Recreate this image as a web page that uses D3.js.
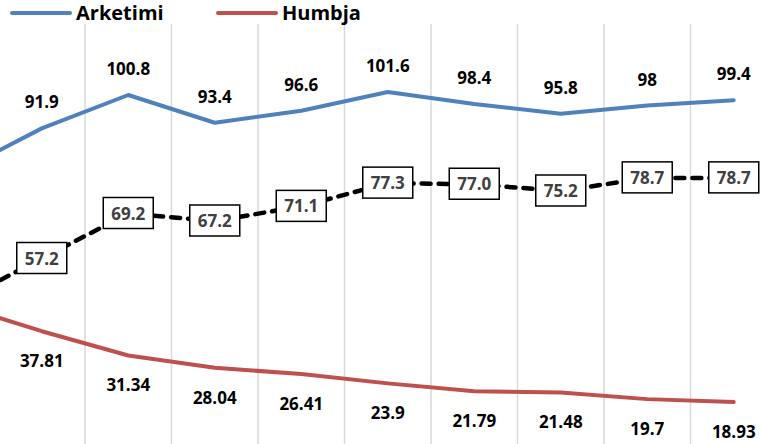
<!DOCTYPE html>
<html>
<head>
<meta charset="utf-8">
<script src="https://cdn.jsdelivr.net/npm/d3@7"></script>
<style>
  body { margin: 0; background: #fff; }
  svg { display: block; font-family: "Open Sans", Lato, sans-serif; }
</style>
</head>
<body>
<script>
// data (first category sits off the left edge of the crop)
var categories = ["c0", "c1", "c2", "c3", "c4", "c5", "c6", "c7", "c8", "c9"];
var arketimi = [80, 91.9, 100.8, 93.4, 96.6, 101.6, 98.4, 95.8, 98, 99.4];
var humbja = [45, 37.81, 31.34, 28.04, 26.41, 23.9, 21.79, 21.48, 19.7, 18.93];
var ratio = [45.2, 57.2, 69.2, 67.2, 71.1, 77.3, 77.0, 75.2, 78.7, 78.7];
var legendNames = ["Arketimi", "Humbja"];

var screen = { width: 762, height: 444 };

var svg = d3.select("body")
            .append("svg")
            .attr("width", screen.width)
            .attr("height", screen.height);

var xScale = d3.scaleBand()
               .domain(categories)
               .range([-88, 777]);

var yScale = d3.scaleLinear()
               .domain([0, 100])
               .range([473, 98]);

var cx = function(i) { return xScale(categories[i]) + xScale.bandwidth() / 2; };

// vertical gridlines at band edges
svg.append("g")
   .attr("class", "grid")
   .selectAll("line")
   .data(categories.slice(1))
   .enter()
   .append("line")
   .attr("x1", function(d) { return xScale(d); })
   .attr("x2", function(d) { return xScale(d); })
   .attr("y1", 24)
   .attr("y2", screen.height)
   .attr("stroke", "#d9d9d9")
   .attr("stroke-width", 1.5);

var line = d3.line()
             .x(function(d, i) { return cx(i); })
             .y(function(d) { return yScale(d); });

// series lines
svg.append("path")
   .datum(arketimi)
   .attr("d", line)
   .attr("fill", "none")
   .attr("stroke", "#4f81bd")
   .attr("stroke-width", 4)
   .attr("stroke-linecap", "round")
   .attr("stroke-linejoin", "round");

svg.append("path")
   .datum(humbja)
   .attr("d", line)
   .attr("fill", "none")
   .attr("stroke", "#c0504d")
   .attr("stroke-width", 4)
   .attr("stroke-linecap", "round")
   .attr("stroke-linejoin", "round");

svg.append("path")
   .datum(ratio)
   .attr("d", line)
   .attr("fill", "none")
   .attr("stroke", "#000")
   .attr("stroke-width", 4.5)
   .attr("stroke-dasharray", "9,8")
   .attr("stroke-linecap", "round");

// data labels
var withIndex = function(arr) {
  return arr.map(function(d, i) { return { v: d, i: i }; }).slice(1);
};

svg.append("g")
   .selectAll("text")
   .data(withIndex(arketimi))
   .enter()
   .append("text")
   .attr("x", function(d) { return cx(d.i); })
   .attr("y", function(d) { return yScale(d.v) - 20; })
   .attr("text-anchor", "middle")
   .attr("font-size", 17)
   .attr("font-weight", "bold")
   .attr("fill", "#000")
   .text(function(d) { return d.v; });

svg.append("g")
   .selectAll("text")
   .data(withIndex(humbja))
   .enter()
   .append("text")
   .attr("x", function(d) { return cx(d.i); })
   .attr("y", function(d) { return yScale(d.v) + 36; })
   .attr("text-anchor", "middle")
   .attr("font-size", 17)
   .attr("font-weight", "bold")
   .attr("fill", "#000")
   .text(function(d) { return d.v; });

var boxes = svg.append("g")
               .selectAll("g")
               .data(withIndex(ratio))
               .enter()
               .append("g")
               .attr("transform", function(d) {
                 return "translate(" + cx(d.i) + "," + yScale(d.v) + ")";
               });

boxes.append("rect")
     .attr("x", -25)
     .attr("y", -16)
     .attr("width", 50)
     .attr("height", 31)
     .attr("fill", "#fff")
     .attr("stroke", "#000")
     .attr("stroke-width", 1.5);

boxes.append("text")
     .attr("y", 6)
     .attr("text-anchor", "middle")
     .attr("font-size", 17)
     .attr("font-weight", "bold")
     .attr("fill", "#404040")
     .text(function(d) { return d.v.toFixed(1); });

// legend
var legend = svg.append("g")
                .selectAll("g")
                .data(legendNames)
                .enter()
                .append("g")
                .attr("transform", function(d, i) { return "translate(" + (12 + i * 206) + ",13)"; });

legend.append("line")
      .attr("x1", 0)
      .attr("x2", 58)
      .attr("stroke", function(d, i) { return i == 0 ? "#4f81bd" : "#c0504d"; })
      .attr("stroke-width", 4)
      .attr("stroke-linecap", "round");

legend.append("text")
      .attr("x", 64)
      .attr("y", 7)
      .attr("font-size", 20)
      .attr("font-weight", "bold")
      .attr("fill", "#000")
      .text(function(d) { return d; });
</script>
</body>
</html>
